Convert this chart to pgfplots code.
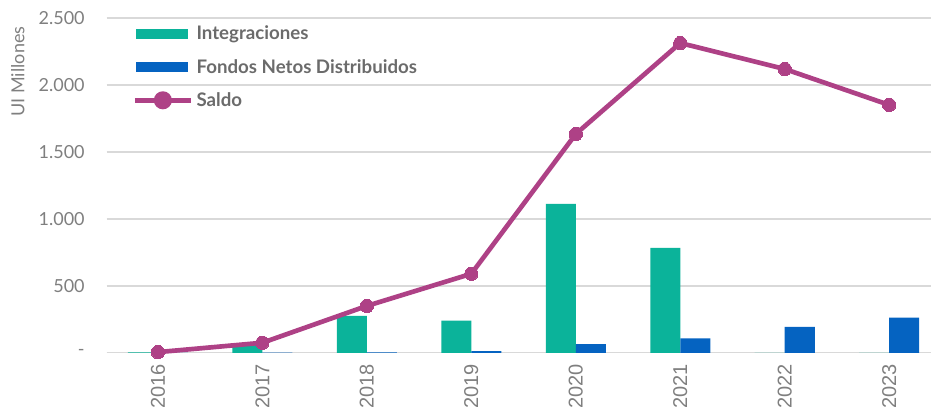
\documentclass[border=0pt]{standalone}
\usepackage{pgfplots}
\pgfplotsset{compat=1.18}
\usepackage{fontspec}
\setmainfont{Lato}
\newfontfamily\arialf{Liberation Sans}
\definecolor{teal1}{HTML}{0BB39A}
\definecolor{blue1}{HTML}{0563C1}
\definecolor{purp}{HTML}{AE4186}
\definecolor{txt}{HTML}{7F7F7F}
\definecolor{legtxt}{HTML}{6B6B6B}
\definecolor{grid}{HTML}{D9D9D9}
\begin{document}
\begin{tikzpicture}
\begin{axis}[
  scale only axis,
  width=618pt, height=251pt,
  xmin=-0.49, xmax=7.4,
  ymin=0, ymax=2500,
  axis x line*=bottom, axis y line*=left,
  x axis line style={draw=grid, line width=1pt},
  y axis line style={draw=none},
  ytick={0,500,1000,1500,2000,2500},
  yticklabels={-,500,1.000,1.500,2.000,2.500},
  xtick={0,1,2,3,4,5,6,7},
  xticklabels={2016,2017,2018,2019,2020,2021,2022,2023},
  x tick label style={rotate=90, anchor=east, font=\arialf\fontsize{15}{17}\selectfont, text=txt, xshift=-5pt},
  y tick label style={font=\fontsize{13.5}{15}\selectfont, text=txt, xshift=-13pt},
  ymajorgrids, grid style={draw=grid, line width=1pt},
  major tick length=0pt,
  /pgf/number format/assume math mode=true,
  ylabel={UI Millones},
  every axis y label/.style={at={(rel axis cs:0,0.84)}, rotate=90, anchor=south, yshift=58pt,
    font=\fontsize{13.5}{15}\selectfont, text=txt},
  legend style={at={(0.031,0.985)}, anchor=north west, draw=none, fill=none,
    font=\bfseries\fontsize{14}{16}\selectfont, text=legtxt, row sep=9pt,
    inner sep=0pt, nodes={inner xsep=2.5pt}},
  legend cell align=left,
  clip=false,
]
\addplot[ybar, bar width=22.5pt, bar shift=-11.25pt, fill=teal1, draw=none,
  area legend, legend image code/.code={\fill[teal1] (0pt,-3.75pt) rectangle (39pt,3.75pt);}]
  coordinates {(0,3) (1,60) (2,276) (3,241) (4,1112) (5,784) (6,0) (7,0)};
\addlegendentry{Integraciones}
\addplot[ybar, bar width=22.5pt, bar shift=11.25pt, fill=blue1, draw=none,
  area legend, legend image code/.code={\fill[blue1] (0pt,-3.75pt) rectangle (39pt,3.75pt);}]
  coordinates {(0,0) (1,2) (2,3) (3,13) (4,65) (5,107) (6,194) (7,263)};
\addlegendentry{Fondos Netos Distribuidos}
\addplot[purp, line width=3.5pt, mark=*, mark size=5pt, mark options={fill=purp, draw=purp, line width=0pt},
  legend image code/.code={\draw[purp, line width=3.5pt] (-1pt,0pt) -- (41pt,0pt); \fill[purp] (20pt,0pt) circle (5pt);}]
  coordinates {(0,5) (1,75) (2,350) (3,590) (4,1634) (5,2313) (6,2119) (7,1851)};
\addlegendentry{Saldo}
\coordinate (bl) at (rel axis cs:0,0);
\coordinate (tr) at (rel axis cs:1,1);
\end{axis}
\pgfresetboundingbox
\path[use as bounding box] ([xshift=-80pt,yshift=-44pt]bl) rectangle ([yshift=13.5pt]tr);
\end{tikzpicture}
\end{document}
